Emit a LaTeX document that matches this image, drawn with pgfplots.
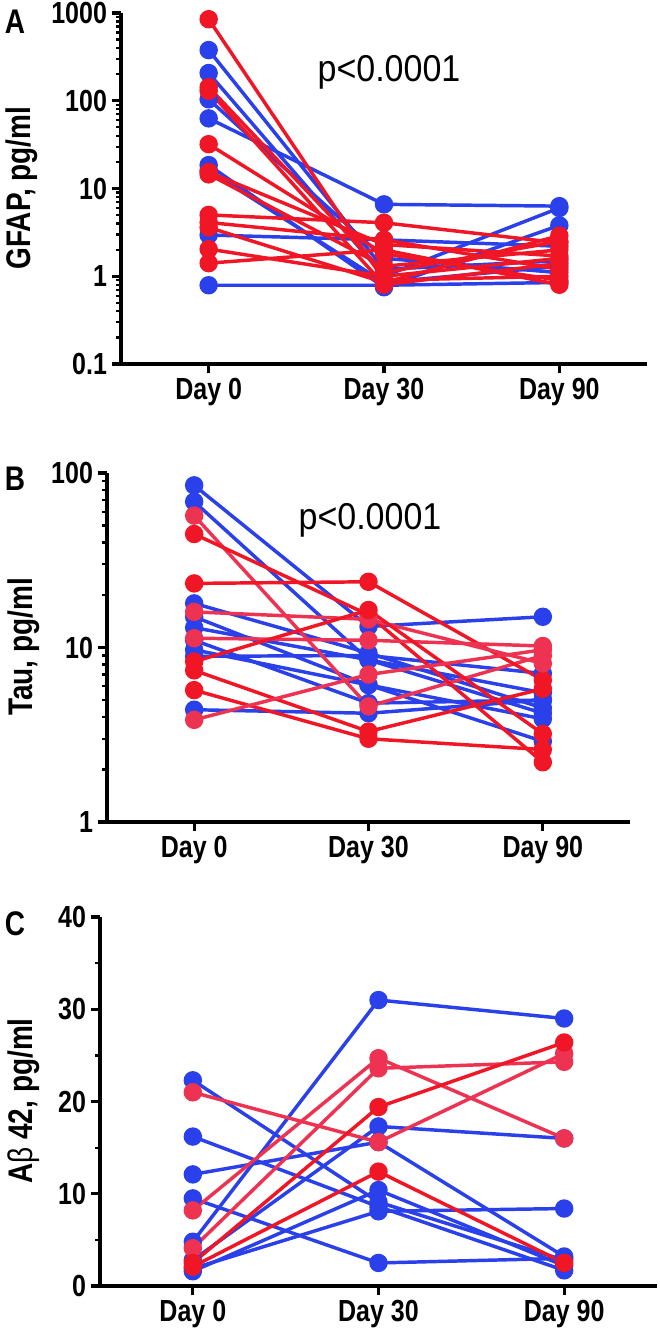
\documentclass[border=0pt]{standalone}
\usepackage{pgfplots}
\pgfplotsset{compat=1.18}
\usepackage{graphicx}
\usepackage{fontspec}
\setmainfont{Liberation Sans}

\definecolor{cblue}{HTML}{2A40EA}
\definecolor{cred}{HTML}{F01626}
\definecolor{cpink}{HTML}{EE3352}

% bold text in the reference is tall and narrow
\newcommand{\tl}[1]{\scalebox{1}[1.22]{#1}}

\pgfplotsset{
  panel/.style={
    scale only axis, clip=false,
    axis x line*=bottom, axis y line*=left,
    axis line style={line width=2.9pt},
    xmin=-0.5, xmax=2.5,
    xtick={0,1,2}, xticklabels={\tl{Day 0},\tl{Day 30},\tl{Day 90}},
    minor x tick num=0,
    tick align=outside,
    major tick length=7pt, minor tick length=3.5pt,
    major tick style={black, line width=2.4pt},
    minor tick style={black, line width=1.7pt},
    tick label style={font=\bfseries\fontsize{18.75}{20}\selectfont},
  },
  bl/.style={cblue, line width=2.6pt, mark=*, mark size=5.6pt, mark options={solid, fill=cblue, draw=cblue}},
  rd/.style={cred, line width=2.6pt, mark=*, mark size=5.6pt, mark options={solid, fill=cred, draw=cred}},
  pk/.style={cpink, line width=2.6pt, mark=*, mark size=5.6pt, mark options={solid, fill=cpink, draw=cpink}},
}

\begin{document}
\begin{tikzpicture}
\fill[white] (0,0) rectangle (495pt,-1001.25pt);
\path[use as bounding box] (0,0) rectangle (495pt,-1001.25pt);

% A: GFAP
\begin{axis}[panel, at={(90.75pt,-273pt)}, anchor=south west,
  width=394.5pt, height=263.25pt,
  ymode=log, ymin=0.1, ymax=1000,
  ytick={0.1,1,10,100,1000}, yticklabels={\tl{0.1},\tl{1},\tl{10},\tl{100},\tl{1000}},
  minor ytick={0.2,0.3,0.4,0.5,0.6,0.7,0.8,0.9,2,3,4,5,6,7,8,9,20,30,40,50,60,70,80,90,200,300,400,500,600,700,800,900}]
\addplot[bl] coordinates {(0,378) (1,1.2) (2,1.5)};
\addplot[bl] coordinates {(0,207) (1,1.0) (2,6.0)};
\addplot[bl] coordinates {(0,104) (1,1.6) (2,1.1)};
\addplot[bl] coordinates {(0,63) (1,6.6) (2,6.3)};
\addplot[bl] coordinates {(0,18.5) (1,0.75) (2,3.8)};
\addplot[bl] coordinates {(0,16) (1,0.85) (2,1.3)};
\addplot[bl] coordinates {(0,2.95) (1,2.6) (2,2.2)};
\addplot[bl] coordinates {(0,0.79) (1,0.79) (2,0.85)};
\addplot[rd] coordinates {(0,850) (1,0.9) (2,1.0)};
\addplot[rd] coordinates {(0,143) (1,1.1) (2,2.5)};
\addplot[rd] coordinates {(0,130) (1,0.8) (2,1.4)};
\addplot[rd] coordinates {(0,32) (1,1.8) (2,0.9)};
\addplot[rd] coordinates {(0,15.4) (1,2.3) (2,1.7)};
\addplot[rd] coordinates {(0,14.5) (1,1.3) (2,2.0)};
\addplot[rd] coordinates {(0,5.0) (1,4.07) (2,2.4)};
\addplot[rd] coordinates {(0,4.1) (1,2.6) (2,1.2)};
\addplot[rd] coordinates {(0,3.6) (1,0.85) (2,2.9)};
\addplot[rd] coordinates {(0,2.04) (1,1.0) (2,1.6)};
\addplot[rd] coordinates {(0,1.41) (1,2.0) (2,0.8)};
\end{axis}

% B: Tau
\begin{axis}[panel, at={(80.25pt,-616.5pt)}, anchor=south west,
  width=392.25pt, height=261.75pt,
  ymode=log, ymin=1, ymax=100,
  ytick={1,10,100}, yticklabels={\tl{1},\tl{10},\tl{100}},
  minor ytick={2,3,4,5,6,7,8,9,20,30,40,50,60,70,80,90}]
\addplot[bl] coordinates {(0,85) (1,13.2) (2,15)};
\addplot[bl] coordinates {(0,68.5) (1,8.5) (2,5.5)};
\addplot[bl] coordinates {(0,17.9) (1,9.3) (2,4.5)};
\addplot[bl] coordinates {(0,15) (1,6.1) (2,2.9)};
\addplot[bl] coordinates {(0,13) (1,8.5) (2,4.2)};
\addplot[bl] coordinates {(0,11) (1,4.8) (2,5.0)};
\addplot[bl] coordinates {(0,9.7) (1,6.1) (2,3.9)};
\addplot[bl] coordinates {(0,8.9) (1,9.0) (2,7.1)};
\addplot[bl] coordinates {(0,4.4) (1,4.2) (2,5.0)};
\addplot[pk] coordinates {(0,57) (1,4.6) (2,9.0)};
\addplot[rd] coordinates {(0,44.7) (1,15.4) (2,2.2)};
\addplot[rd] coordinates {(0,23.3) (1,23.8) (2,6.5)};
\addplot[pk] coordinates {(0,16) (1,14.5) (2,8.1)};
\addplot[pk] coordinates {(0,11.3) (1,11) (2,10.2)};
\addplot[rd] coordinates {(0,8.3) (1,16.4) (2,3.2)};
\addplot[rd] coordinates {(0,7.4) (1,3.3) (2,5.8)};
\addplot[rd] coordinates {(0,5.7) (1,3.0) (2,2.6)};
\addplot[pk] coordinates {(0,3.85) (1,7.0) (2,9.7)};
\end{axis}

% C: Abeta42
\begin{axis}[panel, at={(75pt,-964.5pt)}, anchor=south west,
  width=417.75pt, height=276.75pt,
  ymin=0, ymax=40,
  ytick={0,10,20,30,40}, yticklabels={\tl{0},\tl{10},\tl{20},\tl{30},\tl{40}},
  minor ytick={5,15,25,35}]
\addplot[bl] coordinates {(0,22.3) (1,9.1) (2,2.8)};
\addplot[bl] coordinates {(0,16.2) (1,8.6) (2,1.7)};
\addplot[bl] coordinates {(0,12.1) (1,15.6) (2,3.2)};
\addplot[bl] coordinates {(0,9.5) (1,2.5) (2,3.0)};
\addplot[bl] coordinates {(0,4.8) (1,31.0) (2,29.0)};
\addplot[bl] coordinates {(0,2.8) (1,17.3) (2,16.0)};
\addplot[bl] coordinates {(0,1.6) (1,10.4) (2,2.2)};
\addplot[bl] coordinates {(0,1.9) (1,8.1) (2,8.4)};
\addplot[pk] coordinates {(0,21.0) (1,15.6) (2,25.2)};
\addplot[pk] coordinates {(0,8.2) (1,24.7) (2,16.0)};
\addplot[pk] coordinates {(0,4.1) (1,23.6) (2,24.3)};
\addplot[rd] coordinates {(0,2.5) (1,19.4) (2,26.4)};
\addplot[rd] coordinates {(0,2.1) (1,12.4) (2,2.5)};
\end{axis}

% panel letters, axis titles, p values
\node[font=\bfseries\fontsize{21}{23}\selectfont] at (11.25pt,-16pt) {\tl{A}};
\node[font=\bfseries\fontsize{21}{23}\selectfont] at (11.25pt,-359pt) {\tl{B}};
\node[font=\bfseries\fontsize{21}{23}\selectfont] at (11.25pt,-692.5pt) {\tl{C}};
\node[rotate=90, font=\bfseries\fontsize{21}{23}\selectfont] at (16pt,-141pt) {\tl{GFAP, pg/ml}};
\node[rotate=90, font=\bfseries\fontsize{21}{23}\selectfont] at (18pt,-485.25pt) {\tl{Tau, pg/ml}};
\node[rotate=90, font=\bfseries\fontsize{21}{23}\selectfont] at (18pt,-825.75pt) {\tl{A{\mdseries β} 42, pg/ml}};
\node[font=\fontsize{25.5}{28}\selectfont] at (291.75pt,-54pt) {\scalebox{1}[1.1]{p<0.0001}};
\node[font=\fontsize{25.5}{28}\selectfont] at (277.5pt,-390pt) {\scalebox{1}[1.1]{p<0.0001}};
\end{tikzpicture}
\end{document}
